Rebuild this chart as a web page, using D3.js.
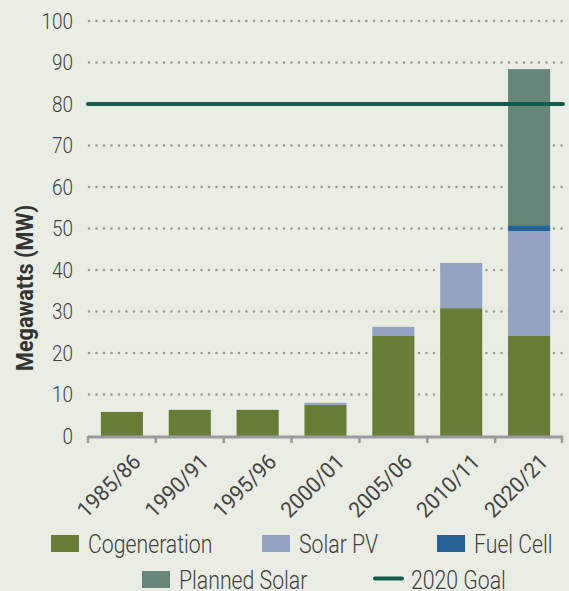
<!DOCTYPE html>
<html>
<head>
<meta charset="utf-8">
<script src="https://cdn.jsdelivr.net/npm/d3@7"></script>
<style>
  body { margin: 0; background: #eaede3; }
  svg { display: block; }
  text { font-family: "Roboto", "Liberation Sans", sans-serif; font-weight: 300; fill: #3f3f3f; }
</style>
</head>
<body>
<div id="chart"></div>
<script>
const years = ['1985/86', '1990/91', '1995/96', '2000/01', '2005/06', '2010/11', '2020/21'];
const cogeneration = [5.8, 6.3, 6.3, 7.5, 24.1, 30.8, 24.1];
const solarPV = [0, 0, 0, 0.5, 2.2, 10.9, 25.3];
const fuelCell = [0, 0, 0, 0, 0, 0, 1.4];
const plannedSolar = [0, 0, 0, 0, 0, 0, 37.6];
const goal = 80;
const yTicks = [0, 10, 20, 30, 40, 50, 60, 70, 80, 90, 100];

const seriesNames = ['Cogeneration', 'Solar PV', 'Fuel Cell', 'Planned Solar'];
const colors = ['#677d37', '#94a3c3', '#246194', '#668679'];
const goalColor = '#135a4a';

const W = 569, H = 591;
const margin = {top: 21, left: 88, right: 6, bottom: 155};

const svg = d3.select('#chart').append('svg')
    .attr('width', W)
    .attr('height', H);

svg.append('rect').attr('width', W).attr('height', H).attr('fill', '#eaede3');

const x = d3.scaleBand()
    .domain(years)
    .range([margin.left, W - margin.right])
    .paddingInner(0.38)
    .paddingOuter(0.19);

const y = d3.scaleLinear()
    .domain([0, 100])
    .range([H - margin.bottom, margin.top]);

// condensed-looking text: squeeze along the text direction
function narrowText(parent, transform, sx, str, size, anchor) {
    const g = parent.append('g').attr('transform', `${transform} scale(${sx},1)`);
    return g.append('text')
        .attr('text-anchor', anchor || 'start')
        .style('font-size', size + 'px')
        .text(str);
}

// dotted grid
svg.append('g')
    .selectAll('line')
    .data(yTicks.filter(d => d > 0 && d !== goal))
    .enter()
    .append('line')
    .attr('x1', margin.left + 1)
    .attr('x2', W - margin.right)
    .attr('y1', d => y(d))
    .attr('y2', d => y(d))
    .attr('stroke', '#9a9a9a')
    .attr('stroke-width', 2.6)
    .attr('stroke-linecap', 'round')
    .attr('stroke-dasharray', '0,7.5');

// tick labels
const yLabels = svg.append('g');
yTicks.forEach(d => {
    narrowText(yLabels, `translate(73,${y(d)})`, 0.88, d, 21.5, 'end')
        .attr('dy', '0.36em');
});

// stacked bars
const table = years.map((yr, i) => ({
    year: yr,
    'Cogeneration': cogeneration[i],
    'Solar PV': solarPV[i],
    'Fuel Cell': fuelCell[i],
    'Planned Solar': plannedSolar[i]
}));
const stacked = d3.stack().keys(seriesNames)(table);

svg.append('g')
    .selectAll('g')
    .data(stacked)
    .enter()
    .append('g')
    .attr('fill', (d, i) => colors[i])
    .selectAll('rect')
    .data(d => d)
    .enter()
    .append('rect')
    .attr('x', d => x(d.data.year))
    .attr('width', x.bandwidth())
    .attr('y', d => y(d[1]))
    .attr('height', d => y(d[0]) - y(d[1]));

// x axis
const axisY = y(0);
const tickXs = d3.range(years.length + 1).map(i => margin.left + (W - margin.right - margin.left) / years.length * i);

svg.append('line')
    .attr('x1', margin.left)
    .attr('x2', W - margin.right)
    .attr('y1', axisY + 1)
    .attr('y2', axisY + 1)
    .attr('stroke', '#9a9a9a')
    .attr('stroke-width', 3);

svg.append('g')
    .selectAll('line')
    .data(tickXs)
    .enter()
    .append('line')
    .attr('x1', d => Math.min(d, W - margin.right - 1))
    .attr('x2', d => Math.min(d, W - margin.right - 1))
    .attr('y1', axisY)
    .attr('y2', axisY + 7)
    .attr('stroke', '#9a9a9a')
    .attr('stroke-width', 2.5);

const xLabels = svg.append('g');
years.forEach(d => {
    narrowText(xLabels, `translate(${x(d) + x.bandwidth() / 2 + 9},${axisY + 16}) rotate(-45)`, 0.95, d, 22, 'end')
        .attr('dy', '0.72em')
        .style('font-weight', 400)
        .style('fill', '#444');
});

// goal line
svg.append('line')
    .attr('x1', margin.left)
    .attr('x2', W - margin.right)
    .attr('y1', y(goal))
    .attr('y2', y(goal))
    .attr('stroke', goalColor)
    .attr('stroke-width', 4)
    .attr('stroke-linecap', 'round');

// y title
narrowText(svg, `translate(33,288) rotate(-90)`, 0.9, 'Megawatts (MW)', 24, 'middle')
    .style('font-weight', 'bold')
    .style('fill', '#333');

// legend
const legendItems = [
    {name: 'Cogeneration', color: colors[0], x: 51, y: 543.5, type: 'rect'},
    {name: 'Solar PV', color: colors[1], x: 262, y: 543.5, type: 'rect'},
    {name: 'Fuel Cell', color: colors[2], x: 437, y: 543.5, type: 'rect'},
    {name: 'Planned Solar', color: colors[3], x: 142, y: 579.5, type: 'rect'},
    {name: '2020 Goal', color: goalColor, x: 374, y: 579.5, type: 'line'}
];

const legend = svg.append('g');
legendItems.forEach(item => {
    if (item.type === 'rect') {
        legend.append('rect')
            .attr('x', item.x)
            .attr('y', item.y - 8.5)
            .attr('width', 28)
            .attr('height', 17)
            .attr('fill', item.color);
    } else {
        legend.append('line')
            .attr('x1', item.x + 1)
            .attr('x2', item.x + 28)
            .attr('y1', item.y - 1)
            .attr('y2', item.y - 1)
            .attr('stroke', item.color)
            .attr('stroke-width', 4)
            .attr('stroke-linecap', 'round');
    }
    narrowText(legend, `translate(${item.x + 37},${item.y})`, 0.85, item.name, 25)
        .attr('dy', '0.36em');
});
</script>
</body>
</html>
